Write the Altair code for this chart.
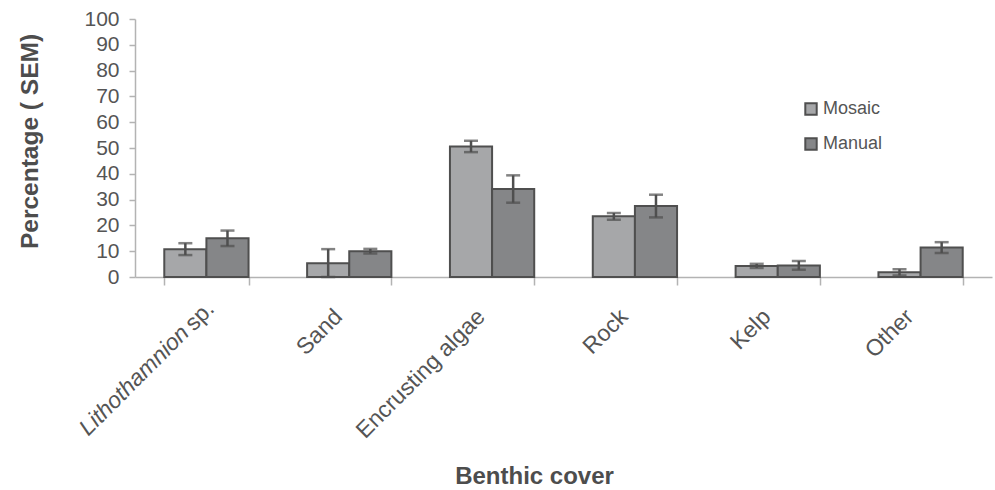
import altair as alt
import pandas as pd

# ---- data ----
categories = ["Lithothamnion sp.", "Sand", "Encrusting algae", "Rock", "Kelp", "Other"]
series = ["Mosaic", "Manual"]
mosaic = [10.8, 5.3, 50.6, 23.5, 4.3, 1.8]
mosaic_sem = [2.3, 5.5, 2.2, 1.3, 0.8, 1.2]
manual = [15.0, 10.0, 34.1, 27.5, 4.5, 11.4]
manual_sem = [3.0, 0.9, 5.3, 4.4, 1.7, 2.1]
y_ticks = list(range(0, 101, 10))
italic_part = ["Lithothamnion"]

rows = []
for c, m, ms, n, ns in zip(categories, mosaic, mosaic_sem, manual, manual_sem):
    rows.append({"category": c, "series": "Mosaic", "value": m, "lo": max(m - ms, 0), "hi": m + ms})
    rows.append({"category": c, "series": "Manual", "value": n, "lo": max(n - ns, 0), "hi": n + ns})
df = pd.DataFrame(rows)
lab_df = pd.DataFrame({"category": [categories[0]], "text": italic_part})

W, H = 857, 258
FONT = "Liberation Sans"
TXT = "#555555"
AXC = "#b3b3b3"
EDGE = "#4f4f4f"
XFS = 23
LPAD = 20
LPAD_LITH = 12
TICK = 8
IS_LITH = "datum.value === 'Lithothamnion sp.'"

x_scale = alt.Scale(paddingInner=0.41, paddingOuter=0.205)
x_axis = alt.Axis(
    title="Benthic cover",
    titleX=399,
    titleY=199,
    titleAlign="center",
    titleBaseline="middle",
    titleFontSize=24,
    titleFontWeight="bold",
    titleColor="#4d4d4d",
    titleFont=FONT,
    labelAngle=-45,
    labelAlign="right",
    labelBaseline="top",
    labelFontSize=XFS,
    labelFont=FONT,
    labelColor=TXT,
    labelPadding={"condition": {"test": IS_LITH, "value": LPAD_LITH}, "value": LPAD},
    labelOffset={"condition": {"test": IS_LITH, "value": -4}, "value": -19},
    labelExpr=IS_LITH + " ? 'sp.' : datum.label",
    labelOverlap=False,
    tickBand="extent",
    tickSize=TICK,
    tickColor=AXC,
    tickWidth=1.5,
    domainColor=AXC,
    domainWidth=1.5,
)
x_main = alt.X("category:N", sort=categories, scale=x_scale, axis=x_axis)
xo_enc = alt.XOffset("series:N", sort=series, scale=alt.Scale(paddingInner=0, paddingOuter=0))
y_scale = alt.Scale(domain=[0, 100], nice=False, clamp=True)
y_axis = alt.Axis(
    title="Percentage ( SEM)",
    titleX=-105,
    titleY=122,
    titleAngle=270,
    titleAlign="center",
    titleBaseline="middle",
    titleFontSize=24.5,
    titleFontWeight="bold",
    titleColor="#4d4d4d",
    titleFont=FONT,
    values=y_ticks,
    grid=False,
    labelFontSize=21,
    labelFont=FONT,
    labelColor=TXT,
    labelPadding=10,
    labelOverlap=False,
    tickSize=6,
    tickColor=AXC,
    tickWidth=1.5,
    domainColor=AXC,
    domainWidth=1.5,
)

base = alt.Chart(df)

bars = base.mark_bar(stroke=EDGE, strokeWidth=2).encode(
    x=x_main,
    xOffset=xo_enc,
    y=alt.Y("value:Q", scale=y_scale, axis=y_axis),
    color=alt.Color(
        "series:N",
        sort=series,
        scale=alt.Scale(domain=series, range=["#a6a7a9", "#858688"]),
        legend=alt.Legend(
            title=None,
            orient="none",
            legendX=667,
            legendY=81,
            symbolType="square",
            symbolSize=130,
            symbolStrokeColor=EDGE,
            symbolStrokeWidth=2,
            labelFontSize=18,
            labelFont=FONT,
            labelColor=TXT,
            labelOffset=3,
            rowPadding=15,
            padding=0,
        ),
    ),
)

err = base.mark_rule(color=EDGE, strokeWidth=2.5).encode(
    x=x_main, xOffset=xo_enc, y=alt.Y("lo:Q", scale=y_scale, axis=y_axis), y2="hi:Q"
)
cap_lo = base.mark_tick(color=EDGE, thickness=2.5, size=14).encode(
    x=x_main, xOffset=xo_enc, y=alt.Y("lo:Q", scale=y_scale, axis=y_axis)
)
cap_hi = base.mark_tick(color=EDGE, thickness=2.5, size=14).encode(
    x=x_main, xOffset=xo_enc, y=alt.Y("hi:Q", scale=y_scale, axis=y_axis)
)

ital = alt.Chart(lab_df).mark_text(
    angle=315,
    align="right",
    baseline="top",
    fontSize=XFS,
    font=FONT,
    fontStyle="italic",
    color=TXT,
    xOffset=-4,
    dx=-35,
).encode(
    x=x_main,
    y=alt.value(H + TICK + LPAD_LITH),
    text="text:N",
)

chart = (
    alt.layer(bars, err, cap_lo, cap_hi, ital)
    .properties(
        width=W,
        height=H,
        background="white",
        autosize=alt.AutoSizeParams(type="none"),
        padding={"left": 135, "top": 19, "right": 3, "bottom": 213},
    )
    .configure_view(strokeWidth=0, stroke="transparent")
)

chart.save("out.html", embed_options={"renderer": "svg", "actions": False})
